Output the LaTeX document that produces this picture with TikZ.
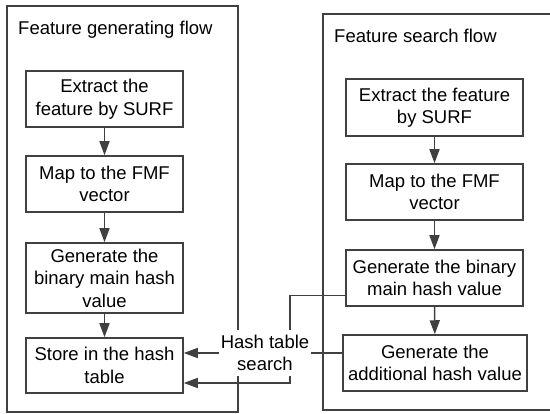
\documentclass[tikz,border=0pt]{standalone}
\usepackage{fontspec}
\setmainfont{Liberation Sans}
\usetikzlibrary{arrows.meta}
\definecolor{lncol}{RGB}{64,64,64}
\begin{document}
\begin{tikzpicture}[x=1pt,y=-1pt,
  every node/.style={font=\fontsize{18.5}{22.5}\selectfont, text=black},
  stepbox/.style={draw=lncol, line width=1.5pt, align=center, inner sep=0pt, fill=white},
  conn/.style={draw=lncol, line width=1.5pt},
  arr/.style={conn, -{Triangle[length=14pt,width=10pt]}}]
\useasboundingbox (0,0) rectangle (550,414);
% outer frames
\draw[conn] (7,6) rectangle (238,412);
\draw[conn] (560,14) -- (323,14) -- (323,410) -- (560,410);
\node[anchor=base west, inner sep=0pt] (T1) at (18,35) {Feature generating flow};
\node[anchor=base west, inner sep=0pt] (T2) at (334,43) {Feature search flow};
% left flow
\node[stepbox, minimum width=157pt, minimum height=56pt] (L1) at (104.5,99) {Extract the\\feature by SURF};
\node[stepbox, minimum width=157pt, minimum height=56pt] (L2) at (104.5,184) {Map to the FMF\\vector};
\node[stepbox, minimum width=157pt, minimum height=70pt] (L3) at (104.5,278) {Generate the\\binary main hash\\value};
\node[stepbox, minimum width=157pt, minimum height=55pt] (L4) at (104.5,365.5) {Store in the hash\\table};
% right flow
\node[stepbox, minimum width=177pt, minimum height=57pt] (R1) at (434.5,107.5) {Extract the feature\\by SURF};
\node[stepbox, minimum width=177pt, minimum height=56pt] (R2) at (434.5,192) {Map to the FMF\\vector};
\node[stepbox, minimum width=177pt, minimum height=56pt] (R3) at (434.5,278) {Generate the binary\\main hash value};
\node[stepbox, minimum width=184pt, minimum height=56pt] (R4) at (435,363) {Generate the\\additional hash value};
% label
\node[align=center, fill=white, inner xsep=2pt, inner ysep=5pt] (HS) at (265,353) {Hash table\\search};
% arrows
\draw[arr] (L1) -- (L2);
\draw[arr] (L2) -- (L3);
\draw[arr] (L3) -- (L4);
\draw[arr] (R1) -- (R2);
\draw[arr] (R2) -- (R3);
\draw[arr] (R3) -- (R4);
\draw[conn] ([yshift=11pt]R3.south west) -| ([xshift=25pt]HS.north);
\draw[arr] ([xshift=25pt]HS.south) |- ([yshift=-17.5pt]L4.east);
\draw[arr] (HS.west) -- (HS.west -| L4.east);
\draw[conn] (R4.west |- HS.east) -- (HS.east);
\end{tikzpicture}
\end{document}
